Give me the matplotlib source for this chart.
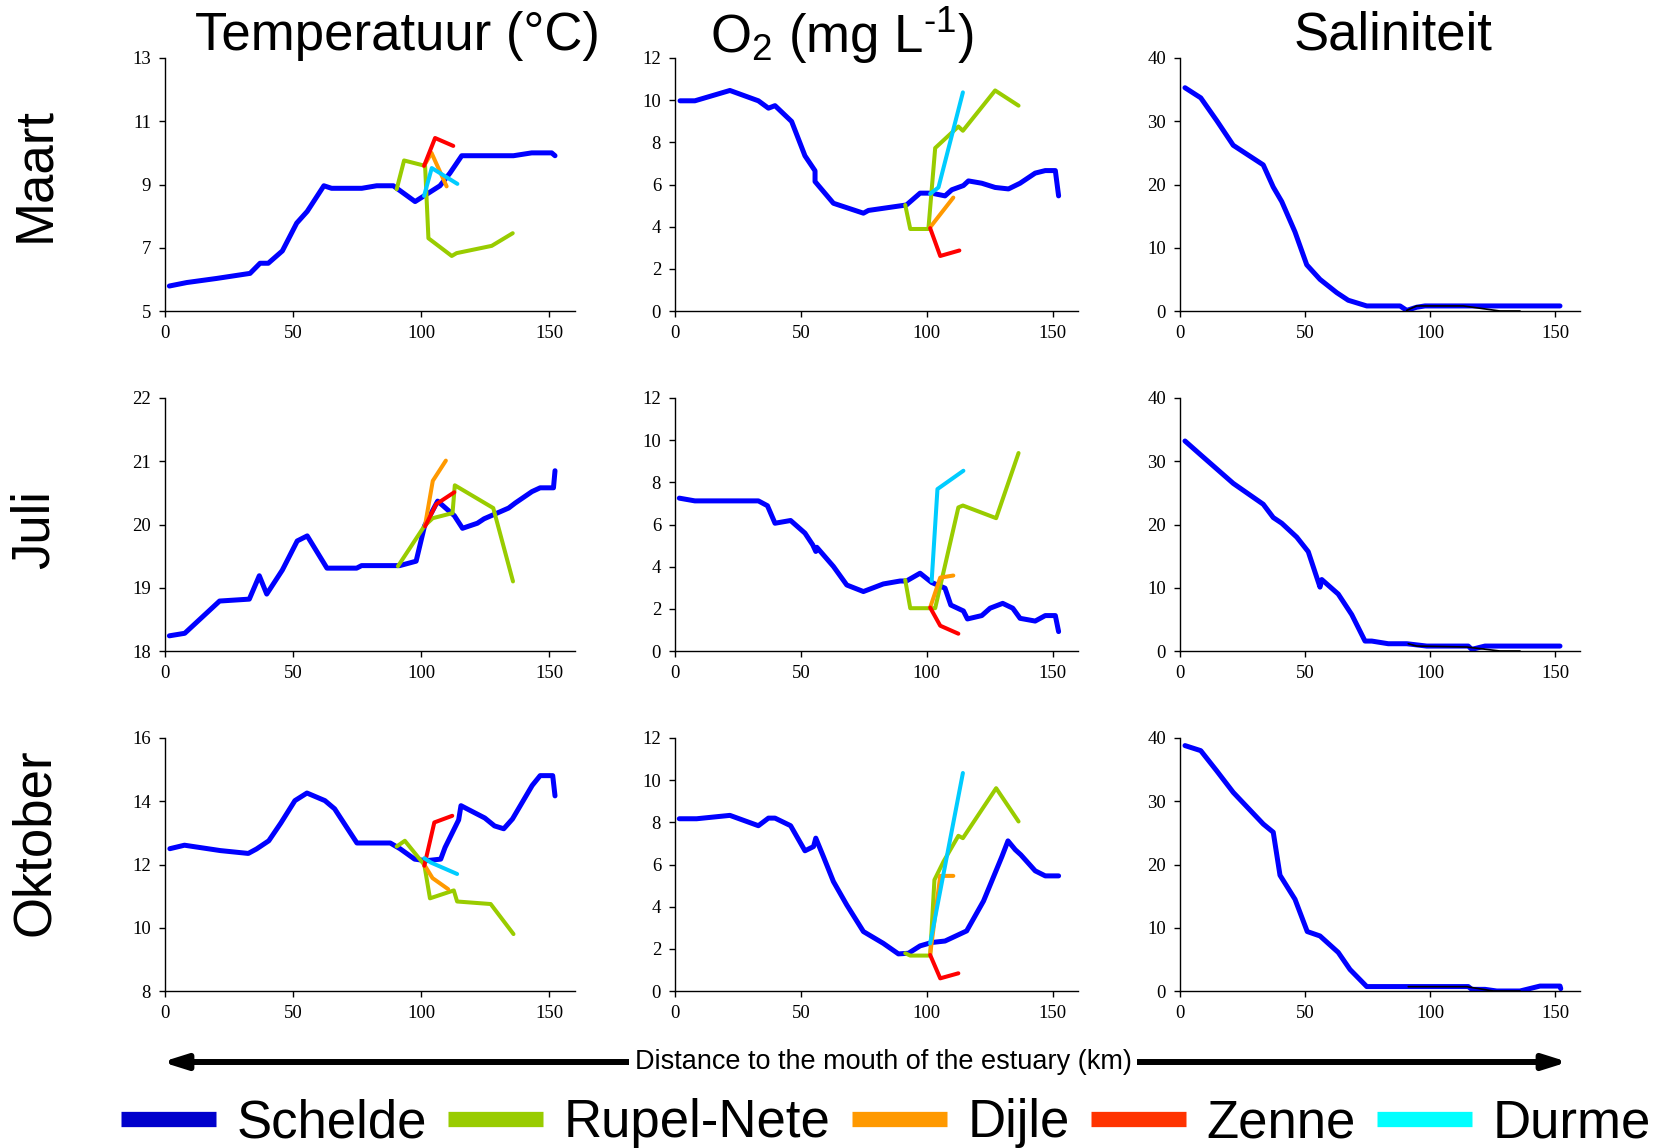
import matplotlib
matplotlib.use("Agg")
import matplotlib.pyplot as plt
from matplotlib.lines import Line2D
from matplotlib.patches import FancyArrowPatch

plt.rcParams['font.family'] = ['Liberation Sans', 'DejaVu Sans']
plt.rcParams['mathtext.default'] = 'regular'

# ---- data (km from the mouth, value) ----
# Temperatuur maart
tmp_mrt_sch_x = [1.7, 8.5, 20.2, 33.2, 37.1, 40.3, 45.8, 51.4, 55.5, 62, 65, 76.8, 82.6, 89.1, 97.6, 107.3, 111.2, 115.8, 136, 143.1, 150.9, 152.2]
tmp_mrt_sch_y = [5.79, 5.9, 6.03, 6.19, 6.51, 6.51, 6.9, 7.78, 8.15, 8.96, 8.88, 8.88, 8.96, 8.96, 8.46, 8.96, 9.36, 9.91, 9.91, 10.0, 10.0, 9.91]
tmp_mrt_rup_x = [90.4, 93.3, 101.5, 102.8, 111.9, 113.8, 127.5, 135.7]
tmp_mrt_rup_y = [8.85, 9.76, 9.59, 7.3, 6.74, 6.83, 7.06, 7.46]
tmp_mrt_dij_x = [101.1, 104.0, 109.9]
tmp_mrt_dij_y = [9.59, 10.0, 8.94]
tmp_mrt_zen_x = [101.1, 105.4, 112.5]
tmp_mrt_zen_y = [9.59, 10.47, 10.22]
tmp_mrt_dur_x = [101.1, 104.1, 114.1]
tmp_mrt_dur_y = [8.64, 9.52, 9.02]

# O2 maart
o2_mrt_sch_x = [2.0, 7.9, 21.8, 33.1, 37.1, 39.7, 46.3, 51.6, 55.6, 55.6, 62.9, 74.8, 76.8, 91.9, 97.3, 101.9, 107.2, 109.9, 114.5, 116.5, 121.8, 127.1, 132.4, 137, 143, 147, 151, 152.3]
o2_mrt_sch_y = [9.97, 9.97, 10.46, 9.97, 9.62, 9.74, 8.99, 7.36, 6.65, 6.14, 5.11, 4.64, 4.77, 5.03, 5.59, 5.59, 5.46, 5.75, 5.95, 6.17, 6.06, 5.86, 5.79, 6.06, 6.54, 6.66, 6.66, 5.46]
o2_mrt_rup_x = [91.4, 93.4, 100.6, 103.3, 112.5, 114.3, 127.1, 136.4]
o2_mrt_rup_y = [5.03, 3.89, 3.89, 7.73, 8.75, 8.55, 10.46, 9.74]
o2_mrt_dij_x = [101.3, 110.5]
o2_mrt_dij_y = [3.97, 5.38]
o2_mrt_zen_x = [101.3, 105.3, 112.9]
o2_mrt_zen_y = [3.93, 2.61, 2.87]
o2_mrt_dur_x = [101.3, 104.6, 114.3]
o2_mrt_dur_y = [5.56, 5.86, 10.37]

# Saliniteit maart
sal_mrt_sch_x = [2, 8.3, 14.7, 21.3, 33.3, 37.3, 40.7, 46, 50.7, 56, 62.7, 67.3, 74.7, 88, 90.7, 94.7, 98, 152]
sal_mrt_sch_y = [35.3, 33.7, 30.1, 26.2, 23.1, 19.6, 17.3, 12.5, 7.3, 5.0, 2.9, 1.7, 0.8, 0.8, 0.1, 0.6, 0.8, 0.8]
sal_mrt_oth_x = [90.7, 94.7, 113.3, 128, 136]
sal_mrt_oth_y = [0.1, 0.8, 0.8, 0.0, 0.0]

# Temperatuur juli
tmp_jul_sch_x = [1.7, 7.7, 21.3, 32.9, 36.8, 39.7, 45.8, 51.6, 55.5, 63.2, 74.8, 76.7, 91.6, 98, 101.3, 106.4, 112.9, 116.1, 121.9, 124.5, 134.1, 136.7, 143.2, 146.4, 151.6, 152.2]
tmp_jul_sch_y = [18.24, 18.28, 18.79, 18.82, 19.19, 18.9, 19.28, 19.74, 19.82, 19.31, 19.31, 19.35, 19.35, 19.42, 19.98, 20.37, 20.14, 19.94, 20.02, 20.09, 20.26, 20.34, 20.52, 20.58, 20.58, 20.85]
tmp_jul_rup_x = [90.9, 101.3, 104.5, 112.2, 113.1, 128.1, 135.8]
tmp_jul_rup_y = [19.34, 19.98, 20.1, 20.18, 20.62, 20.26, 19.1]
tmp_jul_dij_x = [101.5, 104.5, 109.6]
tmp_jul_dij_y = [19.99, 20.69, 21.01]
tmp_jul_zen_x = [101.5, 105.8, 112.9]
tmp_jul_zen_y = [19.97, 20.32, 20.51]

# O2 juli
o2_jul_sch_x = [1.7, 7.9, 33.1, 36.7, 39.7, 45.9, 51.6, 54.7, 55.9, 56.3, 62.9, 68.2, 74.8, 82.7, 89.4, 91.9, 97.3, 101.9, 107.2, 109.5, 114.5, 116.1, 121.8, 125.1, 130.1, 134.1, 137, 143, 147, 151, 152.3]
o2_jul_sch_y = [7.25, 7.12, 7.12, 6.89, 6.06, 6.19, 5.59, 5.03, 4.72, 4.92, 4.01, 3.13, 2.82, 3.18, 3.32, 3.32, 3.69, 3.25, 2.98, 2.18, 1.9, 1.52, 1.68, 2.03, 2.26, 2.03, 1.55, 1.42, 1.68, 1.68, 0.92]
o2_jul_rup_x = [91.4, 93.4, 103.3, 112.5, 114.3, 127.5, 136.4]
o2_jul_rup_y = [3.37, 2.03, 2.03, 6.81, 6.9, 6.3, 9.39]
o2_jul_dij_x = [101.3, 105.3, 110.5]
o2_jul_dij_y = [2.06, 3.48, 3.58]
o2_jul_zen_x = [101.3, 105.3, 112.5]
o2_jul_zen_y = [2.06, 1.2, 0.82]
o2_jul_dur_x = [101.9, 104.2, 114.5]
o2_jul_dur_y = [3.32, 7.68, 8.55]

# Saliniteit juli
sal_jul_sch_x = [2, 8.3, 21.3, 33.3, 37.3, 40.7, 46.7, 51.3, 56, 56.7, 63.3, 68.7, 74, 76.7, 83.3, 90.7, 98.7, 115.3, 116.7, 122, 152]
sal_jul_sch_y = [33.2, 31.0, 26.5, 23.2, 21.1, 20.2, 18.0, 15.7, 10.1, 11.3, 9.0, 5.75, 1.57, 1.57, 1.15, 1.15, 0.78, 0.78, 0.26, 0.78, 0.78]
sal_jul_oth_x = [91.3, 94.7, 114.7, 128, 136]
sal_jul_oth_y = [1.15, 0.78, 0.63, 0.0, 0.0]

# Temperatuur oktober
tmp_okt_sch_x = [1.9, 7.6, 21.6, 32.5, 35.7, 40.5, 45.2, 50.7, 55.4, 62.4, 66.2, 74.9, 87.9, 91.7, 97.4, 101.9, 107.6, 109.3, 114.6, 115.5, 124.8, 128.6, 132.2, 135.6, 143.3, 146.4, 151.3, 152.2]
tmp_okt_sch_y = [12.5, 12.61, 12.44, 12.35, 12.49, 12.75, 13.31, 14.02, 14.26, 14.02, 13.76, 12.68, 12.68, 12.5, 12.17, 12.12, 12.17, 12.54, 13.41, 13.86, 13.47, 13.22, 13.13, 13.44, 14.5, 14.81, 14.81, 14.17]
tmp_okt_rup_x = [90.4, 93.6, 101.2, 103.4, 112.7, 114, 127.1, 136]
tmp_okt_rup_y = [12.57, 12.75, 11.99, 10.93, 11.18, 10.83, 10.75, 9.8]
tmp_okt_dij_x = [101.2, 104.4, 110.5]
tmp_okt_dij_y = [11.99, 11.57, 11.22]
tmp_okt_zen_x = [101.2, 105.1, 112.1]
tmp_okt_zen_y = [11.96, 13.33, 13.54]
tmp_okt_dur_x = [101.2, 103.8, 114]
tmp_okt_dur_y = [12.2, 12.06, 11.7]

# O2 oktober
o2_okt_sch_x = [1.7, 8.6, 21.8, 33.1, 37.1, 39.7, 45.9, 51.6, 55, 55.9, 58.9, 62.9, 68.2, 74.8, 82.7, 88.7, 92.7, 97.3, 101.9, 107.2, 115.8, 122.5, 129.8, 132.2, 135.1, 137.3, 143, 147, 152.3]
o2_okt_sch_y = [8.17, 8.17, 8.33, 7.84, 8.2, 8.2, 7.84, 6.65, 6.85, 7.25, 6.38, 5.19, 4.08, 2.82, 2.26, 1.76, 1.79, 2.14, 2.3, 2.37, 2.85, 4.27, 6.38, 7.12, 6.7, 6.46, 5.7, 5.46, 5.46]
o2_okt_rup_x = [91.4, 93.4, 101.3, 103, 106.6, 112.5, 114.3, 127.5, 136.4]
o2_okt_rup_y = [1.79, 1.68, 1.68, 5.27, 6.14, 7.36, 7.25, 9.62, 8.04]
o2_okt_dij_x = [101.3, 105.3, 110.5]
o2_okt_dij_y = [1.74, 5.46, 5.46]
o2_okt_zen_x = [101.3, 105.3, 112.5]
o2_okt_zen_y = [1.71, 0.6, 0.84]
o2_okt_dur_x = [101.3, 114.3]
o2_okt_dur_y = [2.26, 10.34]

# Saliniteit oktober
sal_okt_sch_x = [2, 8.3, 14.7, 21.3, 33.3, 37.3, 40, 46, 50.9, 56, 63.3, 68, 74.7, 115.3, 116.7, 122, 126.7, 136, 144, 152, 152.3]
sal_okt_sch_y = [38.8, 38.0, 34.8, 31.4, 26.4, 25.1, 18.3, 14.5, 9.4, 8.7, 6.1, 3.4, 0.7, 0.7, 0.26, 0.26, 0.0, 0.0, 0.78, 0.78, 0.37]
sal_okt_oth_x = [91.3, 114.7, 125.3, 136]
sal_okt_oth_y = [0.68, 0.68, 0.0, 0.0]

months = ['Maart', 'Juli', 'Oktober']
columns = ['Temperatuur (°C)', 'O$_2$ (mg L$^{\u2010 1}$)', 'Saliniteit']
rivers = ['Schelde', 'Rupel-Nete', 'Dijle', 'Zenne', 'Durme']
line_colors = {'Schelde': '#0000ff', 'Rupel-Nete': '#99cc00', 'Dijle': '#ff9900',
               'Zenne': '#ff0000', 'Durme': '#00ccff', 'other': 'black'}
legend_colors = ['#0000cc', '#99cc00', '#ff9900', '#ff3300', '#00ffff']

panels = [
    [  # maart
        ((5, 13), [5, 7, 9, 11, 13], [('Schelde', tmp_mrt_sch_x, tmp_mrt_sch_y), ('Rupel-Nete', tmp_mrt_rup_x, tmp_mrt_rup_y),
                                     ('Dijle', tmp_mrt_dij_x, tmp_mrt_dij_y), ('Zenne', tmp_mrt_zen_x, tmp_mrt_zen_y),
                                     ('Durme', tmp_mrt_dur_x, tmp_mrt_dur_y)]),
        ((0, 12), range(0, 13, 2), [('Schelde', o2_mrt_sch_x, o2_mrt_sch_y), ('Rupel-Nete', o2_mrt_rup_x, o2_mrt_rup_y),
                                    ('Dijle', o2_mrt_dij_x, o2_mrt_dij_y), ('Zenne', o2_mrt_zen_x, o2_mrt_zen_y),
                                    ('Durme', o2_mrt_dur_x, o2_mrt_dur_y)]),
        ((0, 40), range(0, 41, 10), [('Schelde', sal_mrt_sch_x, sal_mrt_sch_y), ('other', sal_mrt_oth_x, sal_mrt_oth_y)]),
    ],
    [  # juli
        ((18, 22), [18, 19, 20, 21, 22], [('Schelde', tmp_jul_sch_x, tmp_jul_sch_y), ('Rupel-Nete', tmp_jul_rup_x, tmp_jul_rup_y),
                                         ('Dijle', tmp_jul_dij_x, tmp_jul_dij_y), ('Zenne', tmp_jul_zen_x, tmp_jul_zen_y)]),
        ((0, 12), range(0, 13, 2), [('Schelde', o2_jul_sch_x, o2_jul_sch_y), ('Rupel-Nete', o2_jul_rup_x, o2_jul_rup_y),
                                    ('Dijle', o2_jul_dij_x, o2_jul_dij_y), ('Zenne', o2_jul_zen_x, o2_jul_zen_y),
                                    ('Durme', o2_jul_dur_x, o2_jul_dur_y)]),
        ((0, 40), range(0, 41, 10), [('Schelde', sal_jul_sch_x, sal_jul_sch_y), ('other', sal_jul_oth_x, sal_jul_oth_y)]),
    ],
    [  # oktober
        ((8, 16), range(8, 17, 2), [('Schelde', tmp_okt_sch_x, tmp_okt_sch_y), ('Rupel-Nete', tmp_okt_rup_x, tmp_okt_rup_y),
                                    ('Dijle', tmp_okt_dij_x, tmp_okt_dij_y), ('Zenne', tmp_okt_zen_x, tmp_okt_zen_y),
                                    ('Durme', tmp_okt_dur_x, tmp_okt_dur_y)]),
        ((0, 12), range(0, 13, 2), [('Schelde', o2_okt_sch_x, o2_okt_sch_y), ('Rupel-Nete', o2_okt_rup_x, o2_okt_rup_y),
                                    ('Dijle', o2_okt_dij_x, o2_okt_dij_y), ('Zenne', o2_okt_zen_x, o2_okt_zen_y),
                                    ('Durme', o2_okt_dur_x, o2_okt_dur_y)]),
        ((0, 40), range(0, 41, 10), [('Schelde', sal_okt_sch_x, sal_okt_sch_y), ('other', sal_okt_oth_x, sal_okt_oth_y)]),
    ],
]

W, H = 1661, 1148
fig = plt.figure(figsize=(W / 100, H / 100), dpi=100)

# panel layout in pixels
col_left = [165, 675, 1180]
col_w = [410, 403, 400]
row_top = [58, 398, 738]
row_h = 253

for r in range(3):
    for c in range(3):
        ylim, yticks, series = panels[r][c]
        ax = fig.add_axes([col_left[c] / W, 1 - (row_top[r] + row_h) / H, col_w[c] / W, row_h / H])
        for name, xs, ys in series:
            if name == 'Schelde':
                lw = 3.6
            elif name == 'other':
                lw = 1.2
            else:
                lw = 2.9
            ax.plot(xs, ys, color=line_colors[name], lw=lw, solid_capstyle='round', solid_joinstyle='round')
        ax.set_xlim(0, 160)
        ax.set_ylim(*ylim)
        ax.set_xticks([0, 50, 100, 150])
        ax.set_yticks(list(yticks))
        ax.spines['top'].set_visible(False)
        ax.spines['right'].set_visible(False)
        for s in ['left', 'bottom']:
            ax.spines[s].set_linewidth(1.0)
        ax.tick_params(direction='out', length=4, width=1, labelsize=13.5,
                       labelfontfamily='Liberation Serif', pad=6)

# column titles and row labels
title_x = [397, 842, 1393]
for c in range(3):
    fig.text(title_x[c] / W, 1 - 36 / H, columns[c], fontsize=38, ha='center', va='center')

row_y = [175, 530, 842]
for r in range(3):
    fig.text(35 / W, 1 - row_y[r] / H, months[r], fontsize=38, rotation=90, ha='center', va='center')

# distance arrow
arrow_y = 1 - 1062 / H
arrow = FancyArrowPatch((162 / W, arrow_y), (1568 / W, arrow_y), transform=fig.transFigure,
                        arrowstyle='<|-|>,head_length=0.7,head_width=0.22', mutation_scale=20,
                        lw=4.3, color='black', shrinkA=0, shrinkB=0)
fig.add_artist(arrow)
fig.text(883 / W, arrow_y, 'Distance to the mouth of the estuary (km)', fontsize=19.5,
         ha='center', va='center', bbox=dict(facecolor='white', edgecolor='none', pad=4), zorder=5)

# legend
handles = [Line2D([], [], color=col, lw=11, solid_capstyle='butt') for col in legend_colors]
fig.legend(handles, rivers, loc='center', bbox_to_anchor=(886 / W, 1 - 1123 / H), ncol=5,
           frameon=False, fontsize=38, handlelength=1.8, handletextpad=0.4, columnspacing=0.39,
           borderaxespad=0, borderpad=0)

fig.savefig('out.png', dpi=100)
